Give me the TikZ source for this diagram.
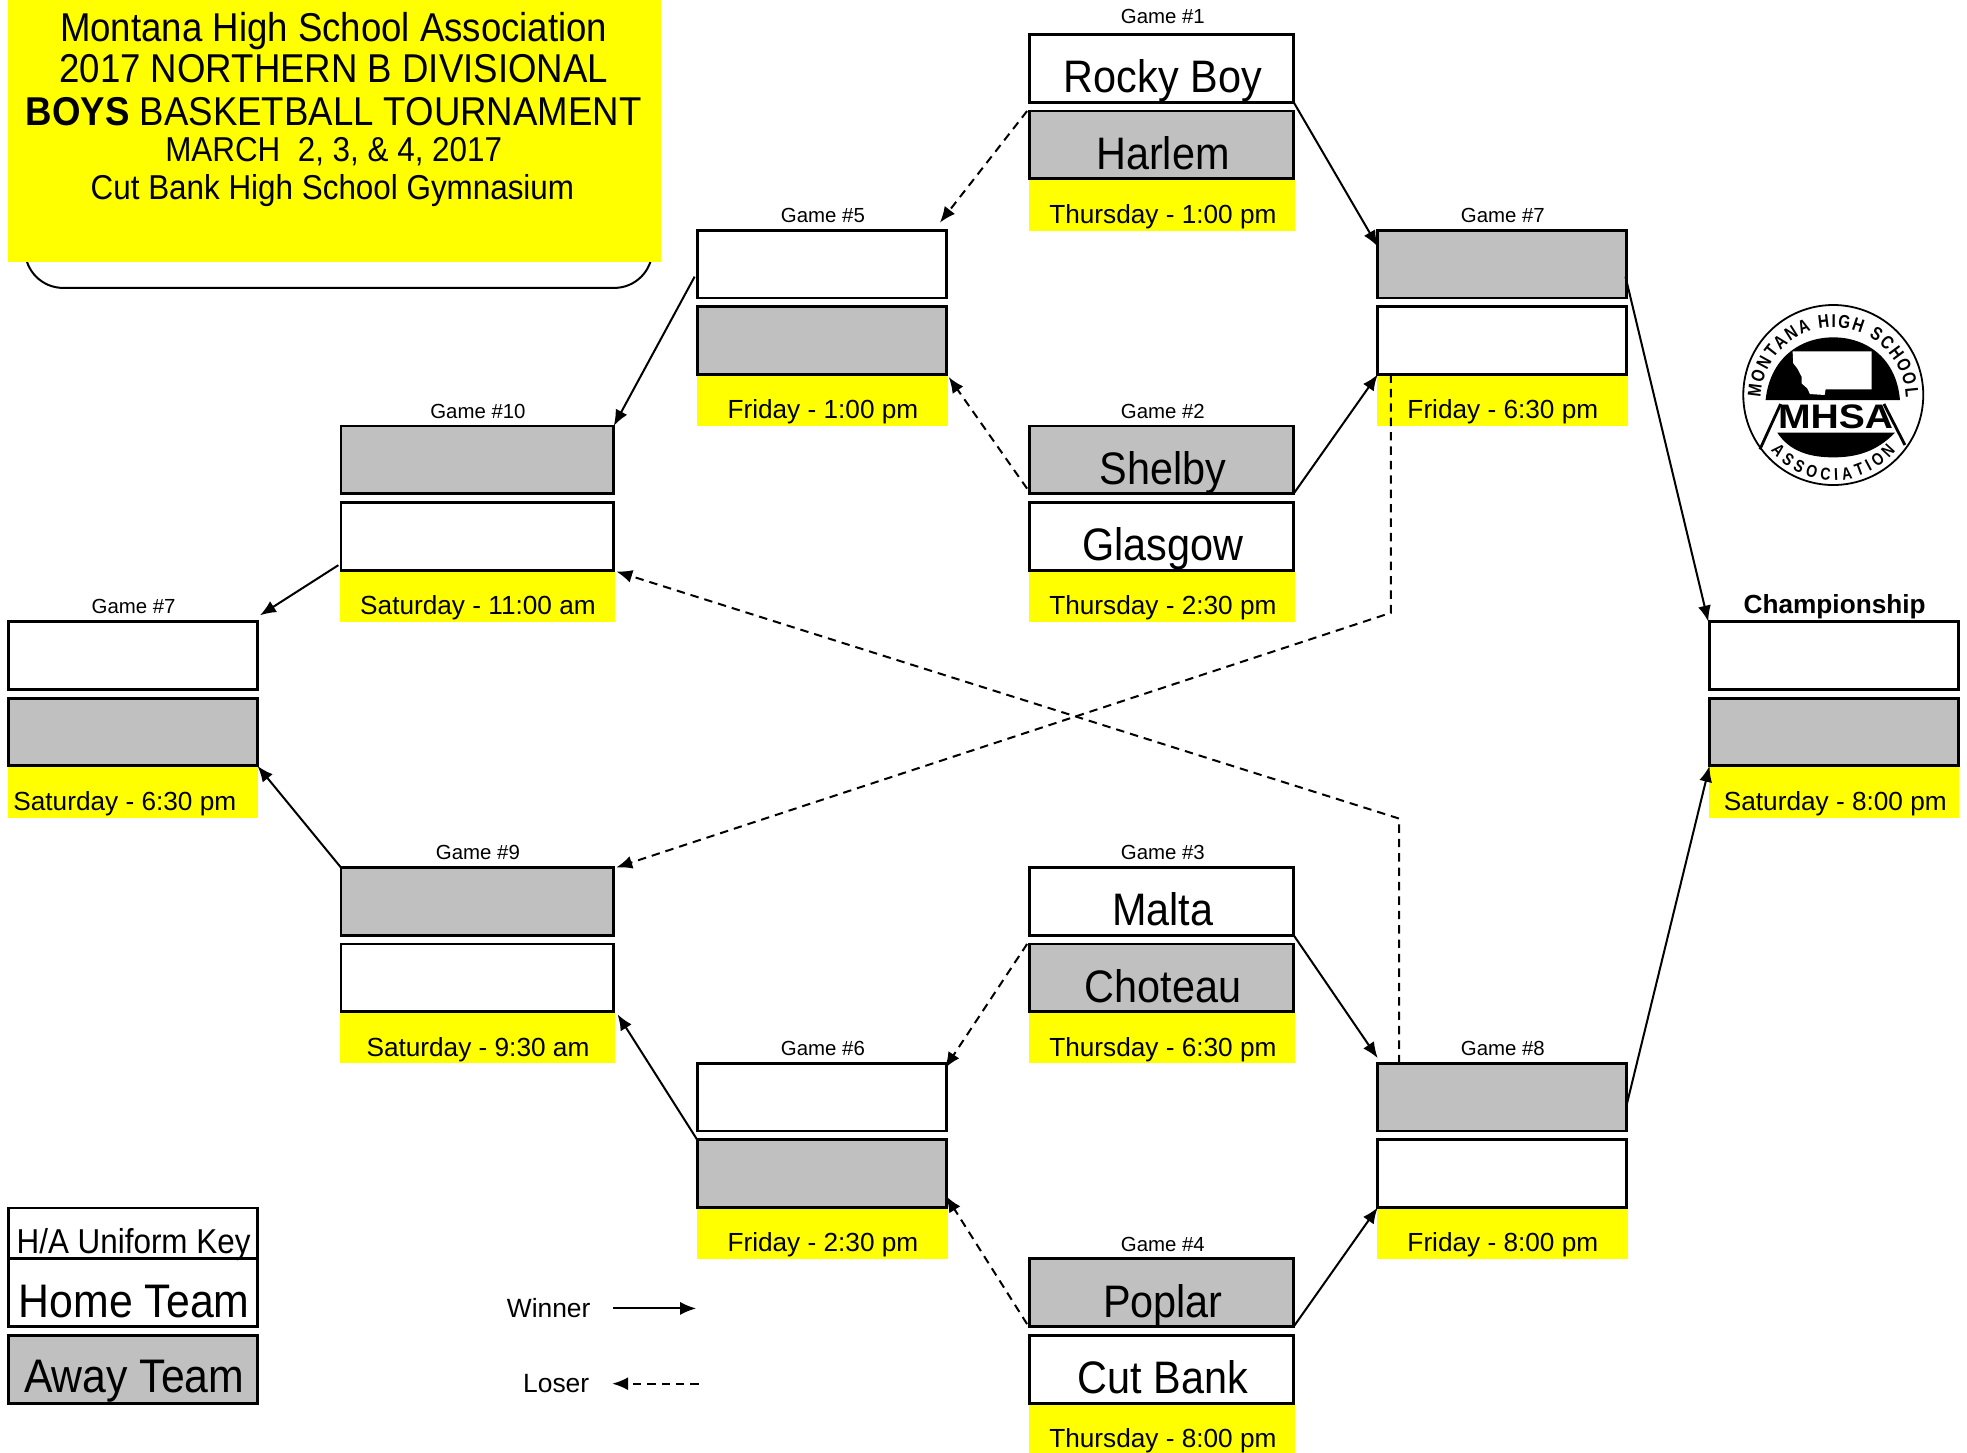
\documentclass[tikz,border=0pt]{standalone}
\usepackage{fontspec}
\usepackage{graphicx}
\setmainfont{Liberation Sans}
\newfontfamily\logoff[FakeStretch=0.82]{Liberation Sans}
\usetikzlibrary{arrows.meta,calc,decorations.text}
\definecolor{bgray}{HTML}{C0C0C0}
\definecolor{byellow}{HTML}{FFFF00}
\def\uu{0.62723pt}
\newcommand{\vs}[1]{\scalebox{1}[1.1]{#1}}
\newcommand{\logofont}{\logoff\fontsize{9.3}{10}\selectfont\bfseries}
\newcommand{\logofontb}{\logoff\fontsize{8.6}{10}\selectfont\bfseries}
\tikzset{
  box/.style={rectangle,draw=black,line width=1.4pt,inner sep=0pt,outer sep=0pt,minimum height=54*\uu},
  home/.style={box,fill=white},
  away/.style={box,fill=bgray},
  wa/.style={minimum width=210.5*\uu},
  wb/.style={minimum width=198.5*\uu},
  wc/.style={minimum width=217.5*\uu},
  time/.style={rectangle,fill=byellow,inner sep=0pt,outer sep=0pt,minimum height=40.5*\uu},
  ta/.style={minimum width=212*\uu},
  tb/.style={minimum width=200*\uu},
  tc/.style={minimum width=219*\uu},
  team/.style={anchor=base,inner sep=0pt,yshift=-0.6pt,font=\fontsize{20.7}{24}\selectfont},
  keytxt/.style={anchor=base,inner sep=0pt,yshift=-0.6pt,font=\fontsize{21.4}{24}\selectfont},
  timetxt/.style={anchor=base,inner sep=0pt,yshift=-0.6pt,font=\fontsize{13.1}{15}\selectfont},
  gamelbl/.style={anchor=base,inner sep=0pt,yshift=-0.9pt,font=\fontsize{10.2}{12}\selectfont},
  titletxt/.style={anchor=base,inner sep=0pt,yshift=-0.6pt,font=\fontsize{18.3}{20}\selectfont},
  subtxt/.style={anchor=base,inner sep=0pt,yshift=-0.6pt,font=\fontsize{15.7}{18}\selectfont},
  legend/.style={anchor=base east,inner sep=0pt,yshift=-1.2pt,font=\fontsize{13.2}{15}\selectfont},
  win/.style={line width=1pt,-{Latex[length=8pt,width=6.5pt]}},
  lose/.style={line width=1pt,dash pattern=on 4.2pt off 3pt,-{Latex[length=8pt,width=6.5pt]}},
}
\begin{document}
\begin{tikzpicture}[x=\uu,y=-\uu]
\useasboundingbox (0,0) rectangle (1568,1158);
% header
\node[draw=black,line width=1pt,rounded corners=19pt,minimum width=500*\uu,minimum height=160*\uu,inner sep=0pt,outer sep=0pt] (frame) at (270,149.5) {};
\node[rectangle,fill=byellow,minimum width=521*\uu,minimum height=209*\uu,inner sep=0pt,outer sep=0pt] (head) at (266.5,104.5) {};
\node[titletxt] (h1) at (266,32) {\vs{Montana High School Association}};
\node[titletxt] (h2) at (266,65) {\vs{2017 NORTHERN B DIVISIONAL}};
\node[titletxt] (h3) at (266,99) {\vs{\textbf{BOYS} BASKETBALL TOURNAMENT}};
\node[subtxt] (h4) at (266,128) {\vs{MARCH\ \ 2, 3, \& 4, 2017}};
\node[subtxt] (h5) at (265,158) {\vs{Cut Bank High School Gymnasium}};
% yellow time strips
\node[time,ta] (y1) at (926,163.5) {};
\node[time,ta] (y2) at (926,475.5) {};
\node[time,ta] (y3) at (926,827.5) {};
\node[time,ta] (y4) at (926,1139) {};
\node[time,tb] (y5) at (655.5,319.5) {};
\node[time,tb] (y6) at (655.5,983.5) {};
\node[time,tb] (y7) at (1197.5,319.5) {};
\node[time,tb] (y8) at (1197.5,983.5) {};
\node[time,tc] (y9) at (380.5,827.5) {};
\node[time,tc] (y10) at (380.5,475.5) {};
\node[time,tb] (y11) at (106,631.5) {};
\node[time,tb] (y12) at (1462,631.5) {};
% game boxes
\node[home,wa] (g1a) at (926,54.5) {};
\node[away,wa] (g1b) at (926,115.5) {};
\node[away,wa] (g2a) at (926,366.5) {};
\node[home,wa] (g2b) at (926,427.5) {};
\node[home,wa] (g3a) at (926,718.5) {};
\node[away,wa] (g3b) at (926,779.5) {};
\node[away,wa] (g4a) at (926,1030.5) {};
\node[home,wa] (g4b) at (926,1091.5) {};
\node[home,wb] (g5a) at (655,210.5) {};
\node[away,wb] (g5b) at (655,271.5) {};
\node[home,wb] (g6a) at (655,874.5) {};
\node[away,wb] (g6b) at (655,935.5) {};
\node[away,wb] (g7a) at (1197.5,210.5) {};
\node[home,wb] (g7b) at (1197.5,271.5) {};
\node[away,wb] (g8a) at (1197.5,874.5) {};
\node[home,wb] (g8b) at (1197.5,935.5) {};
\node[away,wc] (g9a) at (380.5,718.5) {};
\node[home,wc] (g9b) at (380.5,779.5) {};
\node[away,wc] (g10a) at (380.5,366.5) {};
\node[home,wc] (g10b) at (380.5,427.5) {};
\node[home,wb] (gla) at (106,522.5) {};
\node[away,wb] (glb) at (106,583.5) {};
\node[home,wb] (ca) at (1462,522.5) {};
\node[away,wb] (cb) at (1462,583.5) {};
% team names
\node[team] (t1) at (927,73) {\vs{Rocky Boy}};
\node[team] (t2) at (927,134) {\vs{Harlem}};
\node[team] (t3) at (927,385) {\vs{Shelby}};
\node[team] (t4) at (927,446) {\vs{Glasgow}};
\node[team] (t5) at (927,737) {\vs{Malta}};
\node[team] (t6) at (927,798) {\vs{Choteau}};
\node[team] (t7) at (927,1049) {\vs{Poplar}};
\node[team] (t8) at (927,1110) {\vs{Cut Bank}};
% game labels
\node[gamelbl] (l1) at (927,17) {Game \#1};
\node[gamelbl] (l2) at (927,332) {Game \#2};
\node[gamelbl] (l3) at (927,684) {Game \#3};
\node[gamelbl] (l4) at (927,996) {Game \#4};
\node[gamelbl] (l5) at (656,176) {Game \#5};
\node[gamelbl] (l6) at (656,840) {Game \#6};
\node[gamelbl] (l7) at (1198,176) {Game \#7};
\node[gamelbl] (l8) at (1198,840) {Game \#8};
\node[gamelbl] (l9) at (381,684) {Game \#9};
\node[gamelbl] (l10) at (381,332) {Game \#10};
\node[gamelbl] (l11) at (106.5,488) {Game \#7};
\node[anchor=base,inner sep=0pt,yshift=-0.6pt,font=\fontsize{13.1}{15}\selectfont\bfseries] (l12) at (1462.5,488) {Championship};
% times
\node[timetxt] (d1) at (927,177) {Thursday - 1:00 pm};
\node[timetxt] (d2) at (927,489) {Thursday - 2:30 pm};
\node[timetxt] (d3) at (927,841) {Thursday - 6:30 pm};
\node[timetxt] (d4) at (927,1153) {Thursday - 8:00 pm};
\node[timetxt] (d5) at (656,333) {Friday - 1:00 pm};
\node[timetxt] (d6) at (656,997) {Friday - 2:30 pm};
\node[timetxt] (d7) at (1198,333) {Friday - 6:30 pm};
\node[timetxt] (d8) at (1198,997) {Friday - 8:00 pm};
\node[timetxt] (d9) at (381,841) {Saturday - 9:30 am};
\node[timetxt] (d10) at (381,489) {Saturday - 11:00 am};
\node[timetxt] (d11) at (99.5,645) {Saturday - 6:30 pm};
\node[timetxt] (d12) at (1463,645) {Saturday - 8:00 pm};
% winner connectors
\draw[win] (g1a.south east) -- ($(g7a.north west)+(0,13)$);
\draw[win] (g2a.south east) -- (g7b.south west);
\draw[win] ($(g7a.north east)+(-1,37)$) -- ($(ca.north west)+(-1,0)$);
\draw[win] ($(g8a.south east)+(0,-21)$) -- (cb.south west);
\draw[win] ($(g5a.north west)+(-2,37)$) -- (g10a.north east);
\draw[win] ($(g10b.south west)+(-2,-4)$) -- ($(gla.north east)+(2,-5)$);
\draw[win] (g9a.north west) -- (glb.south east);
\draw[win] (g6b.north west) -- ($(g9b.south east)+(3,2)$);
\draw[win] (g3a.south east) -- ($(g8a.north west)+(0,-4)$);
\draw[win] (g4a.south east) -- (g8b.south west);
% loser connectors
\draw[lose] ($(g1b.north west)+(-2,0)$) -- ($(g5a.north east)+(-5,-6)$);
\draw[lose] ($(g2a.south west)+(-2,-4)$) -- ($(g5b.south east)+(2,2)$);
\coordinate (c7) at ($(g7b.south west)+(10.5,190)$);
\draw[lose] ($(g7b.south west)+(10.5,0)$) -- (c7) -- ($(g9a.north east)+(2,0)$);
\coordinate (c8) at ($(g8a.north west)+(17,-195)$);
\draw[lose] ($(g8a.north west)+(17,0)$) -- (c8) -- ($(g10b.south east)+(2,1)$);
\draw[lose] ($(g3b.north west)+(-2,0)$) -- ($(g6a.north east)+(-1,4)$);
\draw[lose] ($(g4a.south west)+(-2,-2)$) -- ($(g6b.south east)+(0,-9)$);
% key
\node[home,wb,minimum height=40*\uu] (k0) at (106,983) {};
\node[home,wb] (k1) at (106,1030.5) {};
\node[away,wb] (k2) at (106,1091.5) {};
\node[anchor=base,inner sep=0pt,yshift=-0.6pt,font=\fontsize{15.7}{18}\selectfont] (k0t) at (106.5,998) {\vs{H/A Uniform Key}};
\node[keytxt] (k1t) at (107,1049) {\vs{Home Team}};
\node[keytxt] (k2t) at (107,1109) {\vs{Away Team}};
% legend
\node[legend] (lw) at (471,1048) {Winner};
\node[legend] (ll) at (470,1108) {Loser};
\coordinate (wa) at (489,1043);
\coordinate (wb) at (555,1043);
\coordinate (la) at (557,1103);
\coordinate (lb) at (488,1103);
\draw[win] (wa) -- (wb);
\draw[lose] (la) -- (lb);
% logo
\begin{scope}[shift={(1355.1,223.2)},x=0.16667pt,y=-0.16667pt]
\coordinate (lc) at (400,345);
\coordinate (lt) at (400,360);
\draw[line width=0.9pt,fill=white] (lc) circle[radius=45pt];
\fill[black] (197,360) .. controls (210,235) and (300,172) .. (400,172) .. controls (500,172) and (590,235) .. (600,360) -- cycle;
\fill[white] (278,214) -- (515,214) -- (515,328) -- (377,328) -- (374,345) -- (330,342) -- (322,325) -- (305,310) -- (305,290) -- (292,265) -- (280,250) -- cycle;
\fill[black] (232,458) -- (585,458) .. controls (530,515) and (470,532) .. (400,532) .. controls (330,532) and (270,515) .. (232,458) -- cycle;
\draw[line width=1.4pt] (180,508) -- (242,372);
\draw[line width=1.4pt] (552,372) -- (615,495);
\node[anchor=base,inner sep=0pt,font=\fontsize{17}{19}\selectfont\bfseries] (mhsa) at (407,445) {\scalebox{1.15}[1]{MHSA}};
\path[decorate,decoration={text along path,text={|\logofont|MONTANA HIGH SCHOOL},text align={fit to path}}]
  ($(lt)+(178:36.3pt)$) arc[start angle=178,end angle=2,radius=36.3pt];
\path[decorate,decoration={text along path,text={|\logofontb|ASSOCIATION},text align={fit to path}}]
  ($(lt)+(219:40.2pt)$) arc[start angle=219,end angle=321,radius=40.2pt];
\end{scope}
\end{tikzpicture}
\end{document}
